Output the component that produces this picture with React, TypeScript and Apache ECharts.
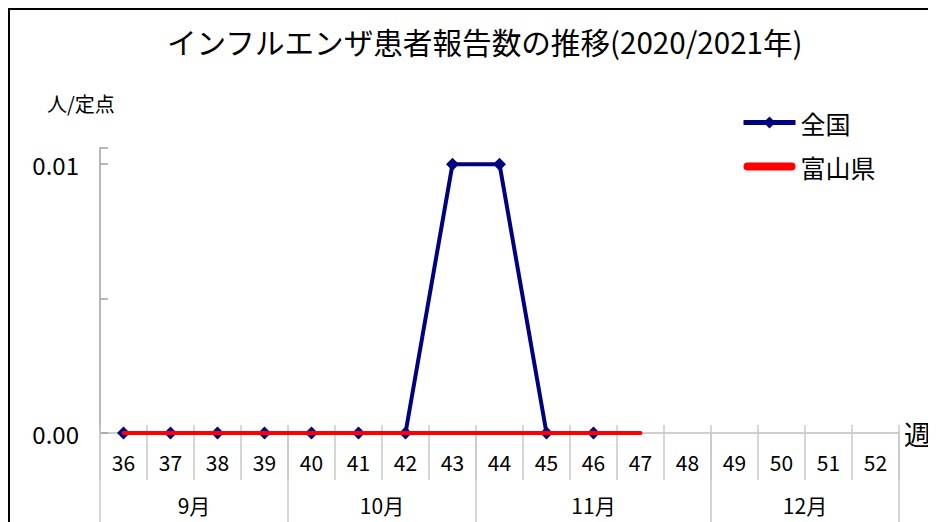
import React, { useEffect, useRef } from "react";
import * as echarts from "echarts";

const weeks = ["36","37","38","39","40","41","42","43","44","45","46","47","48","49","50","51","52"];
const zenkoku = [0, 0, 0, 0, 0, 0, 0, 0.01, 0.01, 0, 0, null, null, null, null, null, null];
const toyama = [0, 0, 0, 0, 0, 0, 0, 0, 0, 0, 0, 0, null, null, null, null, null];
const months = ["9月", "10月", "11月", "12月"];
const monthWeekCounts = [4, 4, 5, 4];
const yTicks = [0, 0.005, 0.01];

const FONT = "'Noto Sans CJK JP', 'Noto Sans', sans-serif";
const RED_ICON = "path://M4,0 L48,0 A4,4 0 0 1 48,8 L4,8 A4,4 0 0 1 4,0 Z";

export default function App() {
  const ref = useRef<HTMLDivElement>(null);
  useEffect(() => {
    const chart = echarts.init(ref.current!, null, { renderer: "svg" });
    const bounds: number[] = [0];
    const centers: number[] = [];
    monthWeekCounts.forEach((c) => {
      const s = bounds[bounds.length - 1];
      centers.push(s + c / 2);
      bounds.push(s + c);
    });
    const allBounds = weeks.map((_, i) => i).concat([weeks.length]);
    chart.setOption({
      animation: false,
      textStyle: { fontFamily: FONT },
      title: {
        text: "インフルエンザ患者報告数の推移(2020/2021年)",
        left: 154,
        top: 14,
        textStyle: { fontSize: 29.6, fontWeight: "normal", color: "#000", fontFamily: FONT },
      },
      graphic: [
        {
          type: "rect",
          shape: { x: 1, y: 1, width: 3000, height: 3000 },
          style: { fill: "none", stroke: "#000", lineWidth: 2 },
          silent: true,
        },
        {
          type: "text",
          left: 39,
          top: 85,
          style: { text: "人/定点", fontSize: 20, fill: "#000", fontFamily: FONT },
        },
      ],
      legend: {
        orient: "vertical",
        left: 728,
        top: 97,
        itemWidth: 52,
        itemHeight: 15,
        itemGap: 19,
        symbolKeepAspect: true,
        lineStyle: { width: 5 },
        textStyle: { fontSize: 25, color: "#000", fontFamily: FONT },
        data: [
          { name: "全国" },
          { name: "富山県", icon: RED_ICON, itemStyle: { color: "#ff0000" } },
        ],
      },
      grid: { left: 92, right: 37, top: 140, bottom: 89, containLabel: false },
      xAxis: [
        {
          type: "category",
          data: weeks,
          boundaryGap: true,
          name: "週",
          nameLocation: "end",
          nameGap: 5,
          nameTextStyle: { fontSize: 27, color: "#000", verticalAlign: "middle", fontFamily: FONT },
          axisLine: { lineStyle: { color: "#bfbfbf", width: 1.5 } },
          axisTick: { show: true, length: 47, lineStyle: { color: "#c8c8c8", width: 1.5 } },
          axisLabel: { fontSize: 21, color: "#000", margin: 18, fontFamily: FONT },
        },
        {
          type: "value",
          min: 0,
          max: weeks.length,
          position: "bottom",
          axisLine: { show: false },
          splitLine: { show: false },
          axisTick: {
            show: true,
            inside: true,
            length: 8,
            customValues: allBounds,
            lineStyle: { color: "#c8c8c8", width: 1.5 },
          },
          axisLabel: { show: false },
        },
        {
          type: "value",
          min: 0,
          max: weeks.length,
          position: "bottom",
          axisLine: { show: false },
          splitLine: { show: false },
          axisTick: {
            show: true,
            length: 120,
            customValues: bounds,
            lineStyle: { color: "#c8c8c8", width: 1.5 },
          },
          axisLabel: {
            show: true,
            customValues: centers,
            margin: 61,
            fontSize: 21,
            color: "#000",
            fontFamily: FONT,
            formatter: (v: number) => {
              const i = centers.findIndex((c) => Math.abs(c - v) < 1e-6);
              return i >= 0 ? months[i] : "";
            },
          },
        },
      ],
      yAxis: {
        type: "value",
        min: 0,
        max: 0.0106,
        interval: 0.005,
        splitLine: { show: false },
        axisLine: { show: true, lineStyle: { color: "#a0a0a0", width: 1.5 } },
        axisTick: { show: true, inside: true, length: 8, lineStyle: { color: "#a0a0a0", width: 1.5 } },
        axisLabel: {
          fontSize: 24,
          color: "#000",
          margin: 21,
          fontFamily: FONT,
          customValues: yTicks,
          formatter: (v: number) => (Math.abs(v - 0.005) < 1e-9 ? "" : v.toFixed(2)),
        },
      },
      series: [
        {
          name: "全国",
          type: "line",
          data: zenkoku,
          symbol: "diamond",
          symbolSize: 13,
          itemStyle: { color: "#000080" },
          lineStyle: { color: "#000080", width: 4 },
          z: 2,
        },
        {
          name: "富山県",
          type: "line",
          data: toyama,
          symbol: "none",
          showSymbol: false,
          itemStyle: { color: "#ff0000" },
          lineStyle: { color: "#ff0000", width: 4, cap: "round" },
          z: 3,
        },
      ],
    });
    return () => chart.dispose();
  }, []);
  return <div ref={ref} style={{ width: 928, height: 514 }} />;
}
